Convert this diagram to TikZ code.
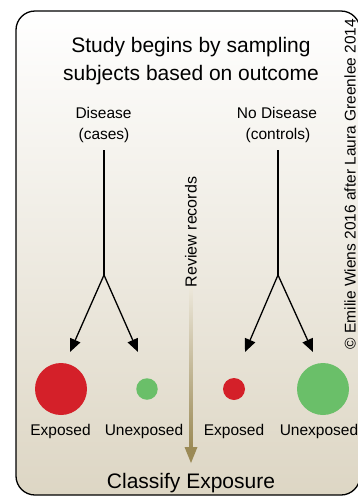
\documentclass[tikz,border=0pt]{standalone}
\usepackage{fontspec}
\setmainfont{Liberation Sans}
\usetikzlibrary{arrows.meta,calc}
\definecolor{redc}{RGB}{212,32,41}
\definecolor{greenc}{RGB}{106,191,105}
\definecolor{beigebg}{RGB}{221,214,196}
\definecolor{goldc}{RGB}{155,138,86}
\definecolor{goldlight}{RGB}{236,231,218}
\tikzset{
  fs/.style={font=\fontsize{#1}{#1}\selectfont},
  lbl/.style={fs=15.5, anchor=base, inner sep=0pt},
  stem/.style={line width=1.3pt, black},
  branch/.style={line width=1.3pt, black, -{Triangle[length=13pt,width=11pt]}},
  dot/.style={circle, inner sep=0pt, minimum size=#1, draw=none},
}
\begin{document}
\begin{tikzpicture}[x=1pt,y=-1pt]
\useasboundingbox (0,0) rectangle (358,496);
\clip (0,0) rectangle (358,496);
% frame with gradient
\path[top color=white, bottom color=beigebg, draw=black, line width=1.3pt, rounded corners=19pt]
  (16,11) rectangle (360,495);

% title
\node[fs=21, anchor=base, inner sep=0pt] (title1) at (191,52) {Study begins by sampling};
\node[fs=21, anchor=base, inner sep=0pt] (title2) at (191,80) {subjects based on outcome};

% group labels
\node[lbl] (dis1) at (103.5,118) {Disease};
\node[lbl] (dis2) at (104,139) {(cases)};
\node[lbl] (nod1) at (277,118) {No Disease};
\node[lbl] (nod2) at (278,139) {(controls)};

% stems and branches
\coordinate (topL) at (104,150);
\coordinate (apexL) at (104,275);
\coordinate (tipLE) at (70,352);
\coordinate (tipLU) at (138,352);
\coordinate (topR) at (278,150);
\coordinate (apexR) at (278,275);
\coordinate (tipRE) at (245,352);
\coordinate (tipRU) at (313,352);
\draw[stem] (topL) -- (apexL);
\draw[branch] (apexL) -- (tipLE);
\draw[branch] (apexL) -- (tipLU);
\draw[stem] (topR) -- (apexR);
\draw[branch] (apexR) -- (tipRE);
\draw[branch] (apexR) -- (tipRU);

% circles
\node[dot=52pt, fill=redc] (cLE) at (61,389) {};
\node[dot=21.5pt, fill=greenc] (cLU) at (147,389) {};
\node[dot=22pt, fill=redc] (cRE) at (234,389) {};
\node[dot=52pt, fill=greenc] (cRU) at (323,389) {};

% circle labels
\node[lbl] (tLE) at (60.5,435) {Exposed};
\node[lbl] (tLU) at (144,435) {Unexposed};
\node[lbl] (tRE) at (234,435) {Exposed};
\node[lbl] (tRU) at (319,435) {Unexposed};

% review records
\node[fs=16, rotate=90, inner sep=0pt] (review) at (191,232) {Review records};
\coordinate (gtop) at (191,288);
\coordinate (gtip) at (191,463);
\shade[top color=goldlight, bottom color=goldc]
  ($(gtop)+(-1.6,0)$) rectangle ($(gtip)+(1.6,-15)$);
\fill[goldc] ($(gtip)+(-6.5,-16)$) -- ($(gtip)+(6.5,-16)$) -- (gtip) -- cycle;

% bottom label
\node[fs=21, anchor=base, inner sep=0pt] (classify) at (191,488) {Classify Exposure};

% copyright
\node[fs=15.5, rotate=90, inner sep=0pt] (copy) at (350,184) {© Emilie Wiens 2016 after Laura Greenlee 2014};
\end{tikzpicture}
\end{document}
